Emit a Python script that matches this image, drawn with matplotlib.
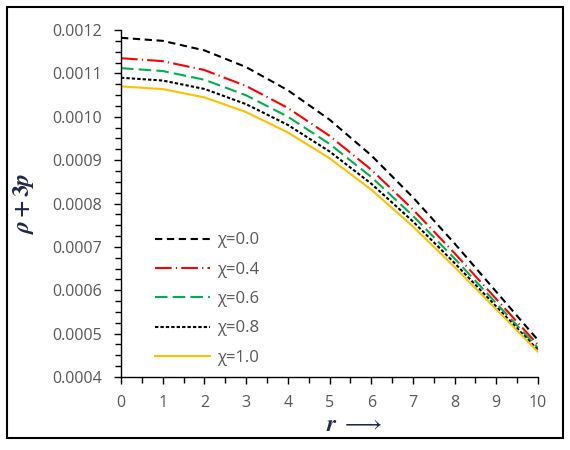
import matplotlib
matplotlib.use("Agg")
import matplotlib.pyplot as plt
from matplotlib.patches import Rectangle
from matplotlib.ticker import MultipleLocator

plt.rcParams['font.family'] = ['Open Sans', 'DejaVu Sans']
plt.rcParams['mathtext.fontset'] = 'stix'

r = [0, 1, 2, 3, 4, 5, 6, 7, 8, 9, 10]
chi_00 = [0.001182, 0.001175, 0.001153, 0.0011145, 0.0010612, 0.0009934, 0.0009111, 0.0008143, 0.0007078, 0.0005964, 0.000485]
chi_04 = [0.001135, 0.0011282, 0.0011077, 0.0010709, 0.0010204, 0.0009561, 0.0008781, 0.0007863, 0.0006853, 0.0005796, 0.000474]
chi_06 = [0.001112, 0.0011054, 0.0010854, 0.0010495, 0.0010002, 0.0009375, 0.0008613, 0.0007717, 0.0006731, 0.0005701, 0.000467]
chi_08 = [0.001090, 0.0010835, 0.0010641, 0.0010291, 0.0009812, 0.0009201, 0.0008459, 0.0007587, 0.0006627, 0.0005624, 0.000462]
chi_10 = [0.001070, 0.0010637, 0.0010447, 0.0010107, 0.0009639, 0.0009044, 0.0008321, 0.0007471, 0.0006536, 0.0005558, 0.000458]
labels = ["χ=0.0", "χ=0.4", "χ=0.6", "χ=0.8", "χ=1.0"]

fig = plt.figure(figsize=(5.7, 4.5), dpi=100)
ax = fig.add_axes([121/570, 1-377/450, (538-121)/570, (377-30)/450])

lw = 1.5
ax.plot(r, chi_00, color='black', lw=lw, dashes=(3.5, 2.2), label=labels[0])
ax.plot(r, chi_04, color='#FF0000', lw=lw, dashes=(8, 2.0, 0.6, 2.0), label=labels[1])
ax.plot(r, chi_06, color='#00B050', lw=lw, dashes=(6, 2.5), label=labels[2])
ax.plot(r, chi_08, color='black', lw=lw, dashes=(1.6, 1.0), label=labels[3])
ax.plot(r, chi_10, color='#FFC000', lw=lw, label=labels[4])

ax.set_xlim(0, 10)
ax.set_ylim(0.0004, 0.0012)
ax.xaxis.set_major_locator(MultipleLocator(1))
ax.xaxis.set_minor_locator(MultipleLocator(0.5))
ax.yaxis.set_major_locator(MultipleLocator(0.0001))
ax.yaxis.set_minor_locator(MultipleLocator(0.000025))
ax.set_yticklabels([f"{v:.4f}" for v in ax.get_yticks()])

for s in ['top', 'right']:
    ax.spines[s].set_visible(False)
for s in ['left', 'bottom']:
    ax.spines[s].set_color('black')
    ax.spines[s].set_linewidth(1.0)

ax.tick_params(axis='both', which='major', direction='out', length=5, width=1.0,
               color='black', labelcolor='#595959', labelsize=11.5)
ax.tick_params(axis='both', which='minor', direction='out', length=4, width=1.0, color='black')
ax.tick_params(axis='x', which='major', pad=8)
ax.tick_params(axis='y', which='major', pad=9)

ax.set_ylabel(r'$\boldsymbol{\rho}\,\mathbf{+}\,\mathbf{3}\boldsymbol{p}$', fontsize=17, color='#1F2A4A')
ax.yaxis.set_label_coords(-0.205, 0.5)
ax.set_xlabel(r'$\boldsymbol{r}\ \longrightarrow$', fontsize=17, color='#1F2A4A')
ax.xaxis.set_label_coords(0.56, -0.105)

leg = ax.legend(loc='upper left', bbox_to_anchor=(0.045, 0.46), frameon=False,
                handlelength=3.3, fontsize=12, labelspacing=0.8, handletextpad=0.45)
for t in leg.get_texts():
    t.set_color('#595959')

fig.patches.append(Rectangle((7/570, 1-438/450), (563-7)/570, (438-7)/450,
                             transform=fig.transFigure, fill=False,
                             edgecolor='black', linewidth=1.5))

fig.savefig('out.png', dpi=100)
